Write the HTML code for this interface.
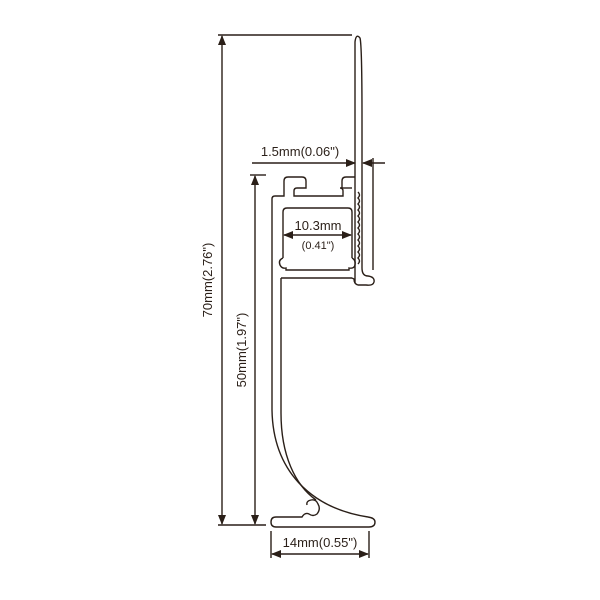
<!DOCTYPE html>
<html><head><meta charset="utf-8"><style>
html,body{margin:0;padding:0;background:#fff;width:600px;height:600px;overflow:hidden}
svg{display:block}
text{font-family:"Liberation Sans",Arial,sans-serif;fill:#2a1f18}
</style></head><body>
<svg width="600" height="600" viewBox="0 0 600 600" xmlns="http://www.w3.org/2000/svg">
<defs>
<marker id="a" markerWidth="10" markerHeight="8" refX="9" refY="4" orient="auto" markerUnits="userSpaceOnUse">
<path d="M0,0 L10,4 L0,8 Z" fill="#2a1f18"/></marker>
</defs>
<g stroke="#2a1f18" stroke-width="1.4" fill="none">
<line x1="218" y1="35" x2="352" y2="35"/>
<line x1="218" y1="525" x2="266" y2="525"/>
<line x1="222" y1="280" x2="222" y2="36" marker-end="url(#a)"/>
<line x1="222" y1="280" x2="222" y2="524" marker-end="url(#a)"/>
<line x1="250" y1="175" x2="266" y2="175"/>
<line x1="255" y1="350" x2="255" y2="176" marker-end="url(#a)"/>
<line x1="255" y1="350" x2="255" y2="524" marker-end="url(#a)"/>
<line x1="252" y1="163" x2="355" y2="163" marker-end="url(#a)"/>
<line x1="385" y1="163" x2="363" y2="163" marker-end="url(#a)"/>
<line x1="373" y1="158" x2="373" y2="270"/>
<line x1="318" y1="235" x2="284" y2="235" marker-end="url(#a)"/>
<line x1="318" y1="235" x2="351" y2="235" marker-end="url(#a)"/>
<line x1="271" y1="531" x2="271" y2="558"/>
<line x1="369" y1="531" x2="369" y2="558"/>
<line x1="320" y1="554" x2="272" y2="554" marker-end="url(#a)"/>
<line x1="320" y1="554" x2="368" y2="554" marker-end="url(#a)"/>

<path d="M272,410 L272,199 Q272,196 275,196 L284,196 L284,181 Q284,177 288,177 L302,177 Q306,177 306,181 L306,188 L297,188 Q294,188 294,191 L294,196 L343,196 L343,191 Q343,188 340,188 L342,188 L342,181 Q342,177 346,177 L355,177"/>
<path d="M341,188 L352,188" />
<path d="M355,283 L355,42 Q356,33 360,38 Q362,45 362,120 L362,268"/>
<path d="M358,192 q3,3 0,6 q3,3 0,6 q3,3 0,6 q3,3 0,6 q3,3 0,6 q3,3 0,6 q3,3 0,6 q3,3 0,6 q3,3 0,6 q3,3 0,6 q3,3 0,6 q3,3 0,6"/>
<path d="M362,268 Q362,276 368,276 Q375,277 374,282 Q373,286 366,285 L358,285 Q354,284 354,279 L352,278"/>
<path d="M283,258 L283,212 Q283,208 287,208 L348,208 Q352,208 352,212 L352,258"/>
<path d="M283,258 q-5,2 -3,7 q2,4 6,3 L286,270 L349,270 L349,268 q5,1 6,-3 q1,-5 -3,-7"/>
<path d="M281,278 L352,278"/>
<path d="M281,278 L281,413 C281,455 295,485 316,500"/>
<path d="M272,410 C273,470 310,508 368,517"/>
<path d="M368,517 Q375,518 375,522 Q375,527 369,527 L276,527 Q271,527 271,522 Q271,517 276,517 L302,517 Q305,512 309,514 Q313,517 317,514 Q321,509 318,504 Q316,499 311,500 Q306,501 307,505"/>
</g>
<text x="300" y="156" font-size="13" text-anchor="middle">1.5mm(0.06")</text>
<text x="318" y="230" font-size="13" text-anchor="middle">10.3mm</text>
<text x="318" y="249" font-size="11" text-anchor="middle">(0.41")</text>
<text x="320" y="547" font-size="13" text-anchor="middle">14mm(0.55")</text>
<text transform="translate(212,280) rotate(-90)" font-size="13" text-anchor="middle">70mm(2.76")</text>
<text transform="translate(246,350) rotate(-90)" font-size="13" text-anchor="middle">50mm(1.97")</text>
</svg>
</body></html>
